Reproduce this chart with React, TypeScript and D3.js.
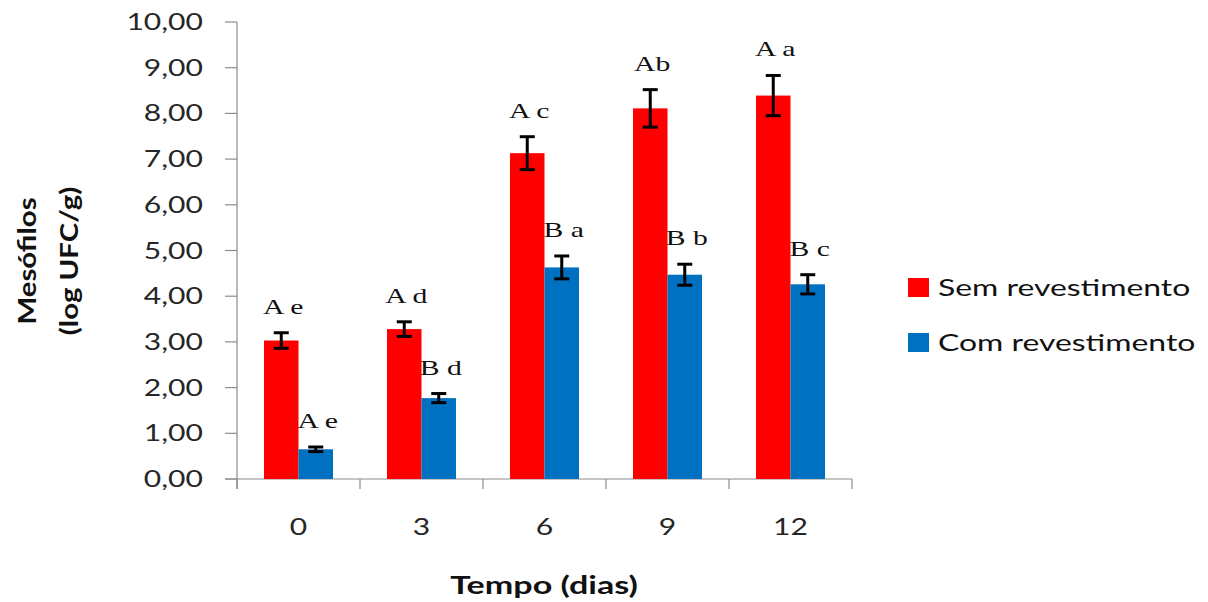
import React from "react";
import * as d3 from "d3";

// Storage time (days) and mesophilic counts (log UFC/g)
const days = ["0", "3", "6", "9", "12"];
const semValues = [3.03, 3.28, 7.13, 8.11, 8.39];
const semErrors = [0.17, 0.16, 0.36, 0.41, 0.44];
const comValues = [0.65, 1.77, 4.63, 4.47, 4.26];
const comErrors = [0.05, 0.1, 0.25, 0.23, 0.21];
const semLetters = ["A e", "A d", "A c", "Ab", "A a"];
const comLetters = ["A e", "B d", "B a", "B b", "B c"];
const yTicks = [0, 1, 2, 3, 4, 5, 6, 7, 8, 9, 10];
const seriesNames = ["Sem revestimento", "Com revestimento"];
const seriesColors = ["#FF0000", "#0070C0"];

const W = 1208;
const H = 602;
const SX = 1.28; // default horizontal stretch applied to text

const plot = { left: 237, right: 852, top: 22, bottom: 479 };

const x = d3
  .scaleBand<string>()
  .domain(days)
  .range([plot.left, plot.right])
  .paddingInner(54 / 123)
  .paddingOuter(27 / 123);

const inner = d3
  .scaleBand<string>()
  .domain(seriesNames)
  .range([0, x.bandwidth()])
  .padding(0);

const y = d3.scaleLinear().domain([0, 10]).range([plot.bottom, plot.top]);

const fmt = (v: number) => d3.format(".2f")(v).replace(".", ",");

function SText(props: {
  x: number;
  y: number;
  anchor?: "start" | "middle" | "end";
  size: number;
  family: string;
  weight?: string | number;
  fill?: string;
  sx?: number;
  children: React.ReactNode;
}) {
  const { anchor = "start", size, family, weight = "normal", fill = "#262626", sx = SX } = props;
  return (
    <text
      transform={`translate(${props.x},${props.y}) scale(${sx},1)`}
      textAnchor={anchor}
      fontSize={size}
      fontFamily={family}
      fontWeight={weight}
      fill={fill}
    >
      {props.children}
    </text>
  );
}

export default function App() {
  const series = [
    { name: seriesNames[0], values: semValues, errors: semErrors, letters: semLetters, color: seriesColors[0] },
    { name: seriesNames[1], values: comValues, errors: comErrors, letters: comLetters, color: seriesColors[1] },
  ];
  const step = x.step();
  const boundaries = d3.range(days.length + 1).map((i) => plot.left + i * step);
  const sans = "Lato, 'Open Sans', sans-serif";
  const serif = "'Liberation Serif', 'DejaVu Serif', serif";

  return (
    <svg
      width={W}
      height={H}
      style={{ position: "absolute", left: 0, top: 0, background: "#fff" }}
    >
      {/* y axis */}
      <line x1={plot.left} x2={plot.left} y1={plot.top} y2={plot.bottom + 10} stroke="#8c8c8c" strokeWidth={1.2} />
      {yTicks.map((t) => (
        <g key={t}>
          <line x1={plot.left - 12} x2={plot.left} y1={y(t)} y2={y(t)} stroke="#8c8c8c" strokeWidth={1.2} />
          <SText x={203} y={y(t) + 8} anchor="end" size={23.5} family={sans}>
            {fmt(t)}
          </SText>
        </g>
      ))}

      {/* x axis */}
      <line x1={plot.left - 12} x2={plot.right} y1={plot.bottom} y2={plot.bottom} stroke="#8c8c8c" strokeWidth={1.2} />
      {boundaries.map((b, i) => (
        <line key={i} x1={b} x2={b} y1={plot.bottom} y2={plot.bottom + 10} stroke="#8c8c8c" strokeWidth={1.2} />
      ))}
      {days.map((d) => (
        <SText key={d} x={(x(d) as number) + x.bandwidth() / 2} y={535} anchor="middle" size={23.5} family={sans}>
          {d}
        </SText>
      ))}

      {/* bars, error bars and letters */}
      {series.map((s) =>
        days.map((d, i) => {
          const bx = (x(d) as number) + (inner(s.name) as number);
          const bw = inner.bandwidth();
          const cx = bx + bw / 2;
          const v = s.values[i];
          const e = s.errors[i];
          const yTop = y(v + e);
          const yBot = y(v - e);
          return (
            <g key={s.name + d}>
              <rect x={bx} y={y(v)} width={bw} height={y(0) - y(v)} fill={s.color} />
              <line x1={cx} x2={cx} y1={yTop} y2={yBot} stroke="#000" strokeWidth={3} />
              <line x1={cx - 7.5} x2={cx + 7.5} y1={yTop} y2={yTop} stroke="#000" strokeWidth={3} />
              <line x1={cx - 7.5} x2={cx + 7.5} y1={yBot} y2={yBot} stroke="#000" strokeWidth={3} />
              <SText x={cx + 2} y={yTop - 19} anchor="middle" size={22} sx={1.35} family={serif} fill="#111">
                {s.letters[i]}
              </SText>
            </g>
          );
        })
      )}

      {/* axis titles */}
      <SText x={544} y={594} anchor="middle" size={24} sx={1.42} family={sans} weight="bold" fill="#111">
        Tempo (dias)
      </SText>
      <text
        transform="translate(36,261) rotate(-90) scale(1.2,1)"
        textAnchor="middle"
        fontSize={24.5}
        fontFamily={sans}
        fontWeight="bold"
        fill="#111"
      >
        Mesófilos
      </text>
      <text
        transform="translate(78,261) rotate(-90) scale(1.2,1)"
        textAnchor="middle"
        fontSize={24.5}
        fontFamily={sans}
        fontWeight="bold"
        fill="#111"
      >
        (log UFC/g)
      </text>

      {/* legend */}
      {series.map((s, i) => (
        <g key={s.name} transform={`translate(908,${278 + i * 55})`}>
          <rect x={0} y={0} width={21} height={19} fill={s.color} />
          <SText x={30} y={18} size={24} sx={1.33} family={sans} fill="#111">
            {s.name}
          </SText>
        </g>
      ))}
    </svg>
  );
}
